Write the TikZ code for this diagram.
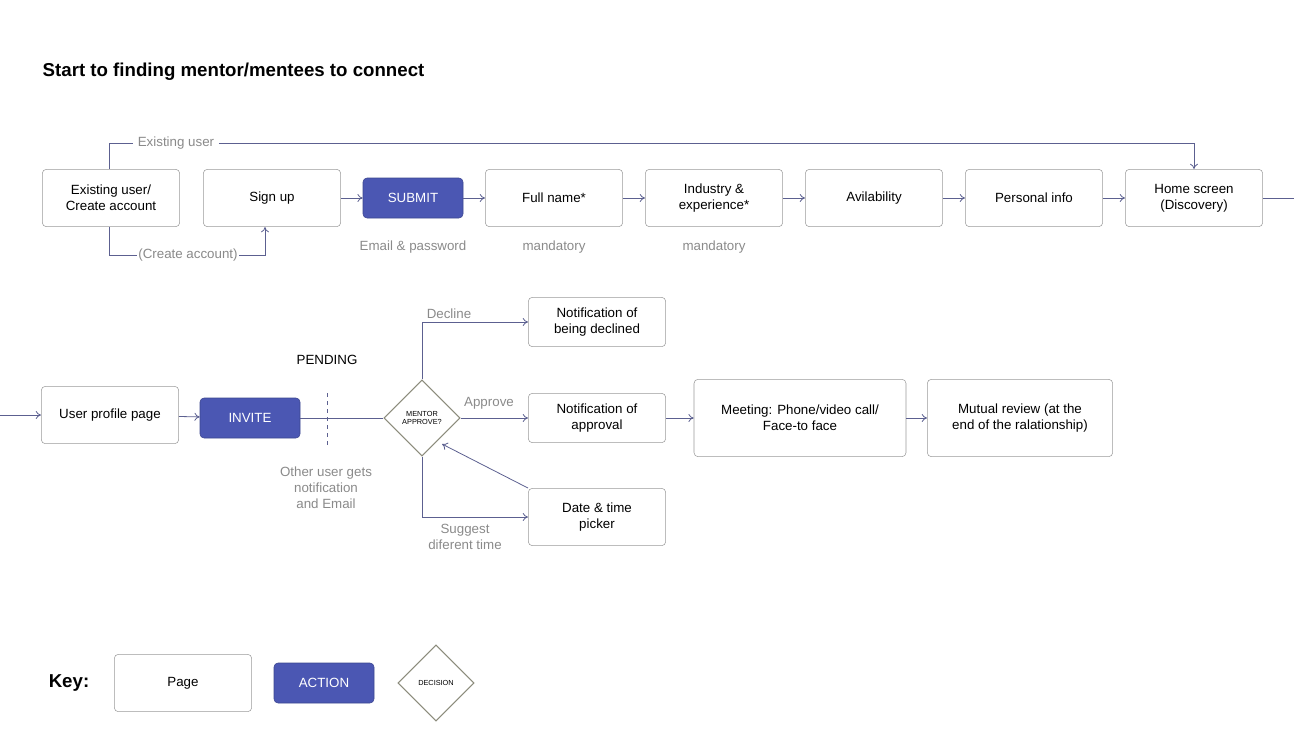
\documentclass[tikz,border=0pt]{standalone}
\usepackage{fontspec}
\setmainfont{Liberation Sans}
\usetikzlibrary{shapes.geometric,arrows.meta}
\definecolor{act}{HTML}{4B57B3}
\definecolor{ln}{HTML}{5C6090}
\definecolor{bd}{HTML}{9A9A9A}
\definecolor{dm}{HTML}{8C8C7C}
\definecolor{lb}{HTML}{8A8A8A}
\begin{document}
\begin{tikzpicture}[x=0.75pt,y=-0.75pt,
 page/.style={draw=bd,rounded corners=3pt,minimum width=103pt,minimum height=43pt,align=center,font=\fontsize{10}{12}\selectfont,inner sep=1pt},
 action/.style={draw=act!80!black,fill=act,rounded corners=3pt,minimum width=75pt,minimum height=30pt,text=white,font=\fontsize{10}{12}\selectfont},
 dec/.style={diamond,draw=dm,thick,minimum width=57pt,minimum height=57pt,inner sep=0pt,align=center,font=\fontsize{5.5}{6.5}\selectfont},
 lbl/.style={text=lb,font=\fontsize{10}{12}\selectfont,align=center},
 con/.style={draw=ln,line width=0.6pt,-{To[length=4pt,width=6pt]}},
 ln/.style={draw=ln,line width=0.6pt}]
\useasboundingbox (0,0) rectangle (1294,740);
\node[anchor=west,font=\bfseries\fontsize{14}{16}\selectfont] (title) at (38,72) {Start to finding mentor/mentees to connect};
% row 1
\node[page] (ex) at (111,198) {Existing user/\\Create account};
\node[page] (su) at (272,198) {Sign up};
\node[action] (sb) at (413,198) {SUBMIT};
\node[page] (fn) at (554,198) {Full name*};
\node[page] (ind) at (714,198) {Industry \&\\experience*};
\node[page] (av) at (874,198) {Avilability};
\node[page] (pi) at (1034,198) {Personal info};
\node[page] (hs) at (1194,198) {Home screen\\(Discovery)};
\draw[con] (su) -- (sb);
\draw[con] (sb) -- (fn);
\draw[con] (fn) -- (ind);
\draw[con] (ind) -- (av);
\draw[con] (av) -- (pi);
\draw[con] (pi) -- (hs);
\coordinate (rend) at (1294,198);
\draw[ln] (hs) -- (rend);
\node[lbl,fill=white] (exl) at (176,143) {Existing user};
\draw[ln] (ex.north -| 109,0) |- (exl.west);
\draw[con] (exl.east) -| (hs.north);
\node[lbl,fill=white,inner sep=1pt] (cal) at (188,255) {(Create account)};
\draw[ln] (ex.south -| 109,0) |- (cal.west);
\draw[con] (cal.east) -| (265,227);
\node[lbl] (l1) at (413,247) {Email \& password};
\node[lbl] (l2) at (554,247) {mandatory};
\node[lbl] (l3) at (714,247) {mandatory};
% row 2
\coordinate (lstart) at (0,415);
\node[page] (up) at (110,415) {User profile page};
\node[action] (inv) at (250,418) {INVITE};
\node[dec] (d) at (422,418) {MENTOR\\APPROVE?};
\node[page,minimum height=37pt] (nd) at (597,322) {Notification of\\being declined};
\node[page,minimum height=37pt] (na) at (597,418) {Notification of\\approval};
\node[page] (dt) at (597,517) {Date \& time\\picker};
\node[page,minimum width=159pt,minimum height=58pt] (mt) at (800,418) {Meeting: Phone/video call/\\Face-to face};
\node[page,minimum width=139pt,minimum height=58pt] (mr) at (1020,418) {Mutual review (at the\\end of the ralationship)};
\draw[con] (lstart) -- (up);
\draw[con] (up) -- (inv);
\draw[ln] (inv) -- (d);
\coordinate (pa) at (327,393); \coordinate (pb) at (327,445);
\draw[ln,dashed] (pa) -- (pb);
\node[font=\fontsize{10}{12}\selectfont] (pend) at (327,360) {PENDING};
\node[lbl] (oth) at (326,488) {Other user gets\\notification\\and Email};
\draw[con] (d.north) |- (nd.west);
\draw[con] (d.east) -- (na.west);
\draw[con] (d.south) |- (dt.west);
\draw[con] (dt.north west) -- (442,444);
\draw[con] (na) -- (mt);
\draw[con] (mt) -- (mr);
\node[lbl] (dl) at (449,314) {Decline};
\node[lbl] (apl) at (489,403) {Approve};
\node[lbl] (sgl) at (465,537) {Suggest\\diferent time};
% key
\node[font=\bfseries\fontsize{14}{16}\selectfont] (key) at (69,683) {Key:};
\node[page] (kp) at (183,683) {Page};
\node[action] (ka) at (324,683) {ACTION};
\node[dec] (kd) at (436,683) {DECISION};
\end{tikzpicture}
\end{document}
